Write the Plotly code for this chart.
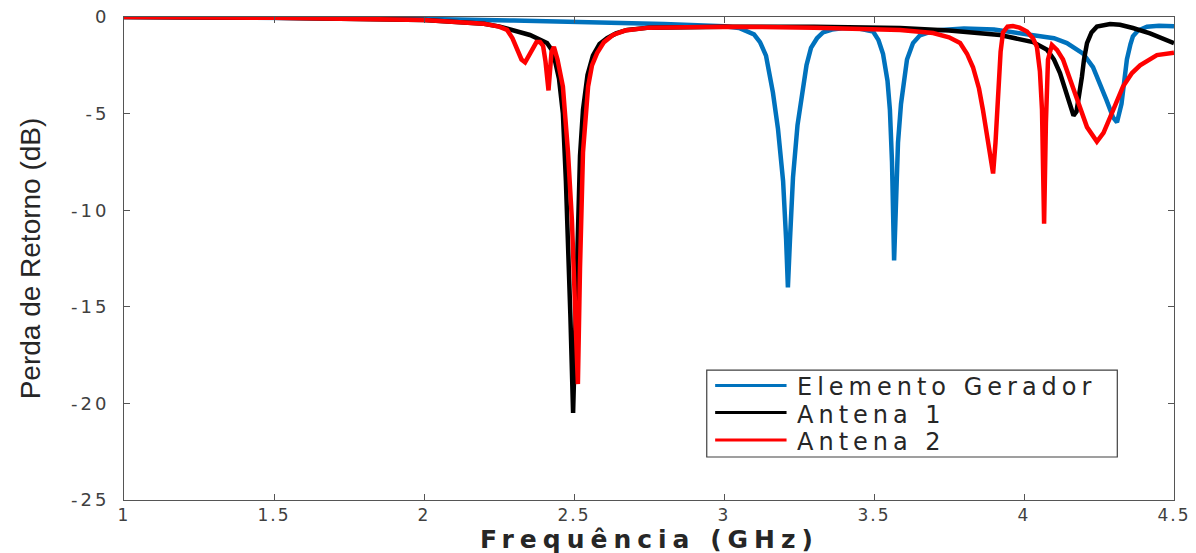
import plotly.graph_objects as go

# Elemento Gerador
f_gen = [1.0, 1.5, 2.0, 2.3, 2.6, 2.8, 3.0, 3.05, 3.1, 3.12, 3.14, 3.163, 3.18, 3.197, 3.207, 3.213,
         3.22, 3.23, 3.245, 3.26, 3.275, 3.29, 3.31, 3.33, 3.36, 3.4, 3.45, 3.497, 3.515, 3.53, 3.545,
         3.553, 3.56, 3.567, 3.573, 3.58, 3.59, 3.6, 3.61, 3.63, 3.653, 3.7, 3.8, 3.9, 4.0, 4.05, 4.1,
         4.143, 4.17, 4.197, 4.23, 4.253, 4.275, 4.297, 4.31, 4.325, 4.343, 4.355, 4.363, 4.38, 4.41,
         4.45, 4.5]
s_gen = [0.0, -0.03, -0.1, -0.18, -0.28, -0.36, -0.48, -0.57, -0.9, -1.3, -2.0, -3.9, -5.8, -8.5, -11.5, -14.0,
         -11.5, -8.3, -5.6, -3.9, -2.5, -1.6, -1.1, -0.8, -0.65, -0.57, -0.6, -0.75, -1.2, -1.9, -3.3,
         -4.8, -7.5, -12.6, -9.5, -6.5, -4.5, -3.1, -2.2, -1.35, -0.95, -0.7, -0.6, -0.65, -0.85, -0.95, -1.1,
         -1.35, -1.6, -1.9, -2.6, -3.4, -4.3, -5.2, -5.45, -4.5, -2.2, -1.4, -1.0, -0.7, -0.5,
         -0.45, -0.48]

# Antena 1
f_a1 = [1.0, 1.5, 2.0, 2.2, 2.253, 2.3, 2.353, 2.41, 2.43, 2.45, 2.463, 2.473, 2.48, 2.488, 2.497,
        2.505, 2.513, 2.52, 2.53, 2.545, 2.563, 2.585, 2.61, 2.64, 2.677, 2.75, 3.0, 3.3, 3.587, 3.75,
        3.92, 4.03, 4.077, 4.1, 4.12, 4.14, 4.155, 4.165, 4.175, 4.185, 4.193, 4.2, 4.21, 4.225, 4.243,
        4.287, 4.32, 4.363, 4.42, 4.5]
s_a1 = [0.0, -0.04, -0.15, -0.35, -0.5, -0.7, -0.93, -1.35, -1.8, -3.2, -5.0, -8.5, -11.5, -15.5, -20.5,
        -16.0, -10.5, -7.2, -4.8, -3.0, -2.0, -1.4, -1.1, -0.85, -0.67, -0.55, -0.5, -0.5, -0.57, -0.7,
        -0.93, -1.3, -1.7, -2.2, -2.9, -3.9, -4.7, -5.1, -4.9, -4.0, -3.1, -2.2, -1.35, -0.8, -0.5,
        -0.36, -0.4, -0.57, -0.85, -1.35]

# Antena 2
f_a2 = [1.0, 1.5, 2.0, 2.2, 2.25, 2.277, 2.295, 2.31, 2.325, 2.337, 2.35, 2.363, 2.375, 2.387, 2.397,
        2.405, 2.41, 2.415, 2.42, 2.425, 2.433, 2.445, 2.463, 2.48, 2.493, 2.503, 2.513, 2.52, 2.53,
        2.547, 2.56, 2.577, 2.6, 2.63, 2.67, 2.75, 3.0, 3.3, 3.587, 3.697, 3.75, 3.787, 3.81, 3.83,
        3.85, 3.863, 3.88, 3.897, 3.905, 3.913, 3.922, 3.93, 3.945, 3.963, 3.985, 4.01, 4.03, 4.043,
        4.053, 4.06, 4.067, 4.073, 4.08, 4.093, 4.11, 4.13, 4.163, 4.19, 4.21, 4.243, 4.265, 4.287,
        4.31, 4.33, 4.36, 4.387, 4.443, 4.5]
s_a2 = [0.0, -0.04, -0.15, -0.35, -0.5, -0.67, -1.1, -1.7, -2.2, -2.35, -2.0, -1.55, -1.3, -1.3, -1.5,
        -2.3, -3.3, -3.8, -2.8, -1.8, -1.55, -2.2, -3.6, -7.0, -10.5, -14.5, -19.0, -13.0, -7.0,
        -3.6, -2.5, -1.87, -1.3, -0.93, -0.7, -0.55, -0.5, -0.55, -0.67, -0.83, -1.05, -1.35, -1.9, -2.6,
        -3.7, -4.8, -6.5, -8.1, -6.5, -3.9, -1.8, -0.8, -0.5, -0.47, -0.55, -0.75, -1.1, -1.55,
        -2.8, -4.8, -10.7, -5.5, -2.2, -1.45, -1.7, -2.2, -3.6, -4.8, -5.7, -6.45, -6.0, -5.2,
        -4.3, -3.6, -2.9, -2.5, -1.97, -1.85]

x_tickvals = [1, 1.5, 2, 2.5, 3, 3.5, 4, 4.5]
x_ticktext = ["1", "1.5", "2", "2.5", "3", "3.5", "4", "4.5"]
y_tickvals = [0, -5, -10, -15, -20, -25]
y_ticktext = ["0", "-5", "-10", "-15", "-20", "-25"]

series_names = ["Elemento Gerador", "Antena 1", "Antena 2"]
colors = ["#0072BD", "#000000", "#FF0000"]
x_title = "Frequência (GHz)"
y_title = "Perda de Retorno (dB)"


def wide(text, px):
    return f'<span style="letter-spacing:{px}px">{text}</span>'


fig = go.Figure()
for name, xs, ys, c in zip(series_names, [f_gen, f_a1, f_a2], [s_gen, s_a1, s_a2], colors):
    fig.add_trace(go.Scatter(x=xs, y=ys, mode="lines", name=name, showlegend=False,
                             line=dict(color=c, width=4.5)))

# Legend box (drawn manually to match the reference's compact layout)
fig.add_shape(type="rect", xref="paper", yref="paper", x0=0.555, x1=0.946, y0=0.089, y1=0.269,
              line=dict(color="#404040", width=1.2), fillcolor="white", layer="above")
row_y = [0.233, 0.177, 0.120]
for name, c, ry in zip(series_names, colors, row_y):
    fig.add_shape(type="line", xref="paper", yref="paper", x0=0.563, x1=0.631, y0=ry + 0.004, y1=ry + 0.004,
                  line=dict(color=c, width=3), layer="above")
    fig.add_annotation(text=wide(name, 5), xref="paper", yref="paper", x=0.639, y=ry, xanchor="left",
                       yanchor="middle", showarrow=False,
                       font=dict(family="DejaVu Sans, sans-serif", size=24, color="#262626"))

# X axis title placed as annotation for exact vertical placement
fig.add_annotation(text="<b>" + wide(x_title, 6) + "</b>", xref="paper", yref="paper",
                   x=0.5, y=-0.047, xanchor="center", yanchor="top", showarrow=False,
                   font=dict(family="DejaVu Sans, sans-serif", size=25, color="#262626"))

xtickfont = dict(family="DejaVu Sans, sans-serif", size=17, color="#404040")
ytickfont = dict(family="DejaVu Sans, sans-serif", size=18, color="#404040")
fig.update_layout(
    width=1196, height=553,
    margin=dict(l=124, r=22, t=17, b=53),
    paper_bgcolor="white", plot_bgcolor="white",
    showlegend=False,
    xaxis=dict(range=[1, 4.5], tickvals=x_tickvals, ticktext=[wide(t, 2) for t in x_ticktext],
               automargin=False, ticklabeloverflow="allow",
               showgrid=False, zeroline=False, showline=True, linecolor="#555555", linewidth=1,
               mirror="ticks", ticks="inside", ticklen=6, tickcolor="#555555",
               tickfont=xtickfont, ticklabelstandoff=0),
    yaxis=dict(range=[-25, 0], tickvals=y_tickvals, ticktext=[wide(t, 3) for t in y_ticktext],
               automargin=False, ticklabeloverflow="allow",
               showgrid=False, zeroline=False, showline=True, linecolor="#555555", linewidth=1,
               mirror="ticks", ticks="inside", ticklen=6, tickcolor="#555555",
               tickfont=ytickfont, ticklabelstandoff=10,
               title=dict(text=y_title, standoff=22,
                          font=dict(family="Liberation Sans, Arial, sans-serif", size=28, color="#262626"))),
)

fig.write_html("out.html", config={"displayModeBar": False},
               post_script="document.body.style.margin='0';")
